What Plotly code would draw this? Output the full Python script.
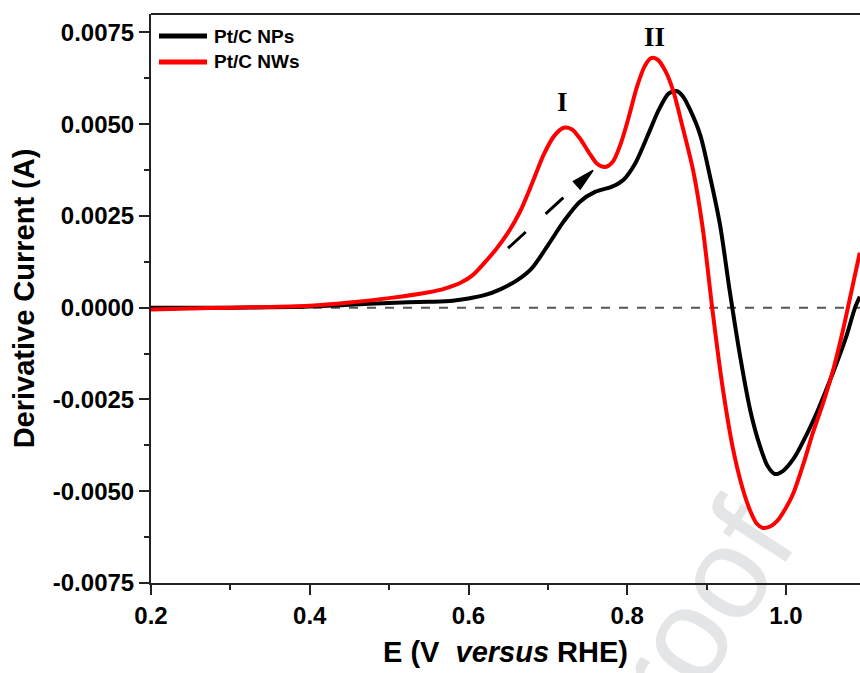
import plotly.graph_objects as go
import numpy as np

# ---------------- data ----------------
E_np = [0.200, 0.250, 0.300, 0.350, 0.400, 0.450, 0.500, 0.550, 0.580, 0.600,
        0.620, 0.640, 0.660, 0.680, 0.700, 0.720, 0.740, 0.760, 0.780, 0.795,
        0.810, 0.825, 0.840, 0.852, 0.862, 0.870, 0.879, 0.892, 0.904, 0.917,
        0.929, 0.942, 0.955, 0.967, 0.977, 0.986, 0.996, 1.010, 1.025, 1.040,
        1.052, 1.064, 1.076, 1.087, 1.093]
I_np = [0.00000, 0.00000, 0.00000, 0.00001, 0.00003, 0.00008, 0.00013, 0.00016, 0.00019, 0.00025,
        0.00034, 0.00050, 0.00073, 0.00108, 0.00170, 0.00235, 0.00288, 0.00316, 0.00329, 0.00348,
        0.00393, 0.00465, 0.00540, 0.00583, 0.00590, 0.00576, 0.00540, 0.00470, 0.00360, 0.00224,
        0.00047, -0.00130, -0.00280, -0.00376, -0.00432, -0.00453, -0.00445, -0.00410, -0.00350, -0.00280,
        -0.00217, -0.00150, -0.00078, 0.00000, 0.00030]

E_nw = [0.200, 0.250, 0.300, 0.350, 0.400, 0.450, 0.500, 0.550, 0.570, 0.590,
        0.605, 0.620, 0.635, 0.650, 0.665, 0.680, 0.695, 0.708, 0.720, 0.730,
        0.740, 0.752, 0.762, 0.772, 0.782, 0.792, 0.802, 0.812, 0.822, 0.830,
        0.838, 0.848, 0.858, 0.870, 0.883, 0.895, 0.907, 0.919, 0.933, 0.945,
        0.955, 0.963, 0.971, 0.980, 0.989, 1.000, 1.009, 1.022, 1.034, 1.047,
        1.060, 1.070, 1.078, 1.093]
I_nw = [-0.00005, -0.00002, 0.00000, 0.00002, 0.00005, 0.00014, 0.00026, 0.00042, 0.00052, 0.00068,
        0.00088, 0.00122, 0.00160, 0.00205, 0.00262, 0.00338, 0.00418, 0.00468, 0.00490, 0.00486,
        0.00462, 0.00422, 0.00392, 0.00383, 0.00398, 0.00448, 0.00520, 0.00600, 0.00658, 0.00680,
        0.00676, 0.00645, 0.00590, 0.00490, 0.00374, 0.00218, 0.00000, -0.00200, -0.00382, -0.00490,
        -0.00554, -0.00588, -0.00600, -0.00596, -0.00581, -0.00545, -0.00507, -0.00425, -0.00340, -0.00258,
        -0.00165, -0.00078, 0.00000, 0.00150]

series_names = ["Pt/C NPs", "Pt/C NWs"]
series_colors = ["#000000", "#ff0000"]

x_tickvals = [0.2, 0.4, 0.6, 0.8, 1.0]
x_ticktext = ["0.2", "0.4", "0.6", "0.8", "1.0"]
y_tickvals = [-0.0075, -0.0050, -0.0025, 0.0, 0.0025, 0.0050, 0.0075]
y_ticktext = ["-0.0075", "-0.0050", "-0.0025", "0.0000", "0.0025", "0.0050", "0.0075"]

peak_labels = ["I", "II"]
peak_E = [0.7178, 0.8337]
peak_I = [0.00559, 0.00737]

arrow_start = (0.6498, 0.00162)
arrow_tip = (0.7569, 0.00374)

# ---------------- layout constants ----------------
W, H = 860, 673
ML, MR, MT, MB = 151, 0, 14, 90
XR = [0.2, 0.2 + (W - ML - MR) / 793.75]
YR = [-0.0075, 0.0080]
PW, PH = W - ML - MR, H - MT - MB
sx = PW / (XR[1] - XR[0])
sy = PH / (YR[1] - YR[0])

tick_font = dict(family="Arial, Liberation Sans, sans-serif", size=24, color="#000", weight="bold")
title_font = dict(family="Arial, Liberation Sans, sans-serif", size=29, color="#000", weight="bold")
legend_font = dict(family="Arial, Liberation Sans, sans-serif", size=19, color="#000", weight="bold")

fig = go.Figure()
for E, I, name, col in [(E_np, I_np, series_names[0], series_colors[0]),
                        (E_nw, I_nw, series_names[1], series_colors[1])]:
    fig.add_trace(go.Scatter(x=E, y=I, mode="lines", name=name, showlegend=False,
                             line=dict(color=col, width=4, shape="spline", smoothing=0.8)))

# zero reference dashed line
fig.add_shape(type="line", xref="paper", yref="y", x0=0, x1=1, y0=0, y1=0,
              line=dict(color="#555555", width=2, dash="9px,9px"), layer="below")
# top frame line
fig.add_shape(type="line", xref="paper", yref="paper", x0=0, x1=1, y0=1, y1=1,
              line=dict(color="#222222", width=2))

# manual legend (pixel -> paper)
def pxp(px):
    return (px - ML) / PW

def pyp(py):
    return (H - MB - py) / PH

for i, (name, col) in enumerate(zip(series_names, series_colors)):
    ly = 36 + 26 * i
    fig.add_shape(type="line", xref="paper", yref="paper", x0=pxp(159), x1=pxp(207),
                  y0=pyp(ly), y1=pyp(ly), line=dict(color=col, width=5))
    fig.add_annotation(xref="paper", yref="paper", x=pxp(212), y=pyp(ly), text=name,
                       showarrow=False, xanchor="left", yanchor="middle", font=legend_font)

# dashed arrow (shaft + filled head)
dxp = (arrow_tip[0] - arrow_start[0]) * sx
dyp = (arrow_tip[1] - arrow_start[1]) * sy
L = np.hypot(dxp, dyp)
ux, uy = dxp / L, dyp / L
head_len, head_w = 22, 10
base = (arrow_tip[0] - ux * head_len / sx, arrow_tip[1] - uy * head_len / sy)
shaft_end = (arrow_tip[0] - ux * (head_len + 4) / sx, arrow_tip[1] - uy * (head_len + 4) / sy)
fig.add_shape(type="line", xref="x", yref="y",
              x0=arrow_start[0], y0=arrow_start[1], x1=shaft_end[0], y1=shaft_end[1],
              line=dict(color="#000", width=3, dash="24px,27px"))
px_, py_ = -uy, ux
p1 = (base[0] + px_ * head_w / 2 / sx, base[1] + py_ * head_w / 2 / sy)
p2 = (base[0] - px_ * head_w / 2 / sx, base[1] - py_ * head_w / 2 / sy)
fig.add_shape(type="path", xref="x", yref="y",
              path=f"M{arrow_tip[0]},{arrow_tip[1]} L{p1[0]},{p1[1]} L{p2[0]},{p2[1]} Z",
              fillcolor="#000", line=dict(color="#000", width=1.5))

# peak labels
for t, xe, yi in zip(peak_labels, peak_E, peak_I):
    fig.add_annotation(x=xe, y=yi, text=t, showarrow=False, xanchor="center", yanchor="middle",
                       font=dict(family="Liberation Serif, Times New Roman, serif", size=27,
                                 color="#000", weight="bold"))

# watermark
fig.add_shape(type="rect", xref="paper", yref="paper", x0=0.460, x1=0.462, y0=-0.613, y1=-0.611,
              line=dict(width=0), fillcolor="rgba(0,0,0,0)", layer="below",
              label=dict(text="Journal Pre-proof", textangle=-57, textposition="middle center",
                         font=dict(family="Liberation Sans, Arial, sans-serif", size=130, color="#e4e5e7")))

fig.update_layout(
    width=W, height=H,
    margin=dict(l=ML, r=MR, t=MT, b=MB),
    paper_bgcolor="white", plot_bgcolor="rgba(0,0,0,0)",
    showlegend=False,
    xaxis=dict(range=XR, showgrid=False, zeroline=False, showline=True, linecolor="#222", linewidth=2,
               ticks="outside", ticklen=10, tickwidth=2, tickcolor="#222",
               tickvals=x_tickvals, ticktext=x_ticktext, tickfont=tick_font,
               minor=dict(ticks="outside", ticklen=5, tickwidth=1.5, tickcolor="#222", dtick=0.1, showgrid=False),
               title=dict(text="E (V\u00a0 <i>versus</i> RHE)", font=title_font, standoff=14)),
    yaxis=dict(range=YR, showgrid=False, zeroline=False, showline=True, linecolor="#222", linewidth=2,
               ticks="outside", ticklen=10, tickwidth=2, tickcolor="#222",
               tickvals=y_tickvals, ticktext=y_ticktext, tickfont=tick_font,
               minor=dict(ticks="outside", ticklen=5, tickwidth=1.5, tickcolor="#222", dtick=0.00125, showgrid=False),
               title=dict(text="Derivative Current (A)", font=title_font, standoff=10)),
)

fig.write_html("out.html")
